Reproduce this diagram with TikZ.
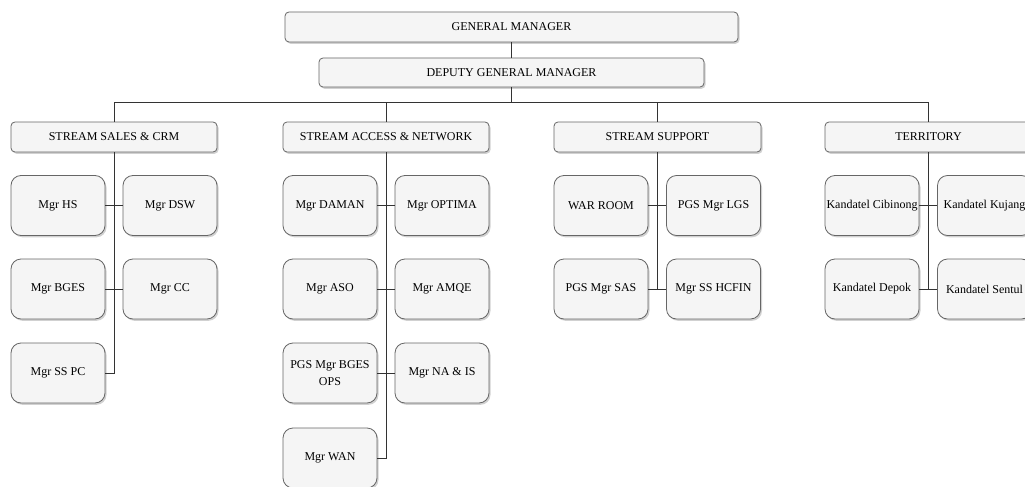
\documentclass[tikz,border=0pt]{standalone}
\usepackage{fontspec}
\setmainfont{Liberation Serif}
\usetikzlibrary{shadows}
\definecolor{boxfill}{HTML}{F5F5F5}
\definecolor{boxline}{HTML}{666666}
\definecolor{conn}{HTML}{333333}
\tikzset{
  base/.style={draw=boxline, fill=boxfill, line width=0.8pt, font=\fontsize{12}{17}\selectfont,
    drop shadow={shadow xshift=1.5pt, shadow yshift=-1.8pt, fill=black!40, opacity=0.45},
    inner sep=1pt, align=center},
  headbox/.style={base, rounded corners=4pt, minimum height=30pt},
  unitbox/.style={base, rounded corners=10pt, minimum width=94pt, minimum height=60pt},
  link/.style={draw=conn, line width=0.9pt},
}
\begin{document}
\begin{tikzpicture}[x=1pt, y=-1pt]
\useasboundingbox (0,0) rectangle (1025,487);
\clip (0,0) rectangle (1025,487);
\fill[white] (0,0) rectangle (1025,487);

% top level
\node[headbox, minimum width=453pt] (gm) at (511.5,27) {GENERAL MANAGER};
\node[headbox, minimum width=385pt, minimum height=29pt] (dgm) at (511.5,72.5) {DEPUTY GENERAL MANAGER};

% streams
\node[headbox, minimum width=206pt] (sales) at (114,137) {STREAM SALES \& CRM};
\node[headbox, minimum width=206pt] (access) at (386,137) {STREAM ACCESS \& NETWORK};
\node[headbox, minimum width=207pt] (support) at (657.5,137) {STREAM SUPPORT};
\node[headbox, minimum width=207pt] (terr) at (928.5,137) {TERRITORY};

\coordinate (bus) at (0,102.5);
\draw[link] (gm.south) -- (dgm.north);
\draw[link] (dgm.south) -- (dgm.south |- bus);
\draw[link] (sales.north) -- (sales.north |- bus) -- (terr.north |- bus) -- (terr.north);
\draw[link] (access.north) -- (access.north |- bus);
\draw[link] (support.north) -- (support.north |- bus);

% sales children
\node[unitbox] (hs) at (58,205.5) {Mgr HS};
\node[unitbox] (dsw) at (170,205.5) {Mgr DSW};
\node[unitbox] (bges) at (58,289) {Mgr BGES};
\node[unitbox] (cc) at (170,289) {Mgr CC};
\node[unitbox] (sspc) at (58,373) {Mgr SS PC};
\draw[link] (sales.south) -- (sales.south |- sspc.east) -- (sspc.east);
\draw[link] (hs.east) -- (dsw.west);
\draw[link] (bges.east) -- (cc.west);

% access children
\node[unitbox] (daman) at (330,205.5) {Mgr DAMAN};
\node[unitbox] (optima) at (442,205.5) {Mgr OPTIMA};
\node[unitbox] (aso) at (330,289) {Mgr ASO};
\node[unitbox] (amqe) at (442,289) {Mgr AMQE};
\node[unitbox] (bgesops) at (330,373) {PGS Mgr BGES\\OPS};
\node[unitbox] (nais) at (442,373) {Mgr NA \& IS};
\node[unitbox] (wan) at (330,458) {Mgr WAN};
\draw[link] (access.south) -- (access.south |- wan.east) -- (wan.east);
\draw[link] (daman.east) -- (optima.west);
\draw[link] (aso.east) -- (amqe.west);
\draw[link] (bgesops.east) -- (nais.west);

% support children
\node[unitbox] (war) at (601,205.5) {WAR ROOM};
\node[unitbox] (lgs) at (713.5,205.5) {PGS Mgr LGS};
\node[unitbox] (sas) at (601,289) {PGS Mgr SAS};
\node[unitbox] (hcfin) at (713.5,289) {Mgr SS HCFIN};
\draw[link] (support.south) -- (support.south |- sas.east);
\draw[link] (war.east) -- (lgs.west);
\draw[link] (sas.east) -- (hcfin.west);

% territory children
\node[unitbox] (cib) at (872,205.5) {Kandatel Cibinong};
\node[unitbox] (kuj) at (984.5,205.5) {Kandatel Kujang};
\node[unitbox] (dep) at (872,289) {Kandatel Depok};
\node[unitbox] (sen) at (984.5,289) {Kandatel Sentul};
\draw[link] (terr.south) -- (terr.south |- dep.east);
\draw[link] (cib.east) -- (kuj.west);
\draw[link] (dep.east) -- (sen.west);
\end{tikzpicture}
\end{document}
